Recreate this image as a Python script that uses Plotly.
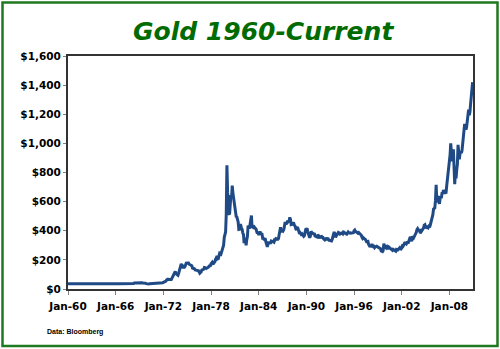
import plotly.graph_objects as go

# Monthly gold price (USD/oz), one list of 12 values per year, Jan..Dec
years = list(range(1960, 2011))
prices_by_year = {
    1960: [35.3, 35.2, 35.2, 35.2, 35.2, 35.2, 35.2, 35.3, 35.4, 36.5, 36.2, 35.6],
    1961: [35.5, 35.4, 35.4, 35.3, 35.3, 35.3, 35.2, 35.2, 35.2, 35.2, 35.2, 35.2],
    1962: [35.2, 35.2, 35.2, 35.2, 35.2, 35.2, 35.2, 35.2, 35.2, 35.2, 35.2, 35.2],
    1963: [35.2, 35.2, 35.2, 35.1, 35.1, 35.1, 35.1, 35.1, 35.1, 35.1, 35.1, 35.1],
    1964: [35.1, 35.1, 35.1, 35.1, 35.1, 35.1, 35.1, 35.1, 35.1, 35.1, 35.1, 35.2],
    1965: [35.2, 35.2, 35.2, 35.2, 35.2, 35.2, 35.2, 35.2, 35.2, 35.2, 35.2, 35.2],
    1966: [35.2, 35.2, 35.2, 35.2, 35.2, 35.2, 35.2, 35.2, 35.2, 35.2, 35.2, 35.2],
    1967: [35.2, 35.2, 35.2, 35.2, 35.2, 35.2, 35.2, 35.2, 35.2, 35.2, 35.4, 35.6],
    1968: [35.5, 35.6, 38.0, 37.8, 40.5, 41.2, 39.5, 39.3, 39.5, 39.6, 40.8, 41.9],
    1969: [42.5, 42.4, 43.3, 43.6, 43.5, 41.5, 42.0, 41.2, 40.6, 40.3, 36.9, 35.2],
    1970: [34.9, 35.0, 35.1, 35.6, 35.8, 35.4, 35.3, 35.4, 36.2, 37.5, 37.4, 37.4],
    1971: [37.9, 38.7, 38.9, 39.0, 40.5, 40.1, 41.0, 42.7, 42.0, 42.5, 42.9, 43.5],
    1972: [45.7, 48.3, 48.3, 49.0, 54.6, 62.1, 65.7, 67.0, 65.5, 64.9, 62.9, 63.9],
    1973: [65.1, 74.2, 84.4, 90.5, 102.0, 120.0, 120.0, 106.0, 103.0, 100.0, 94.8, 106.7],
    1974: [129.0, 150.0, 168.0, 172.0, 163.0, 154.0, 143.0, 154.0, 151.0, 158.0, 181.0, 183.0],
    1975: [176.0, 180.0, 178.0, 170.0, 167.0, 164.0, 166.0, 160.0, 144.0, 143.0, 142.0, 139.0],
    1976: [131.0, 131.0, 132.0, 128.0, 126.0, 126.0, 118.0, 109.0, 114.0, 117.0, 130.0, 134.0],
    1977: [132.0, 136.0, 148.0, 149.0, 146.0, 141.0, 144.0, 145.0, 149.0, 158.0, 162.0, 160.0],
    1978: [173.0, 178.0, 184.0, 175.0, 176.0, 183.0, 188.0, 206.0, 212.0, 227.0, 206.0, 208.0],
    1979: [227.0, 245.0, 242.0, 239.0, 257.0, 279.0, 295.0, 301.0, 355.0, 392.0, 392.0, 512.0],
    1980: [850.0, 665.0, 555.0, 517.0, 513.0, 600.0, 645.0, 627.0, 710.0, 662.0, 623.0, 595.0],
    1981: [557.0, 500.0, 498.0, 495.0, 480.0, 460.0, 409.0, 410.0, 443.0, 437.0, 413.0, 410.0],
    1982: [384.0, 374.0, 315.0, 350.0, 334.0, 300.0, 339.0, 364.0, 436.0, 422.0, 415.0, 444.0],
    1983: [481.0, 505.0, 419.0, 432.0, 438.0, 413.0, 422.0, 416.0, 412.0, 394.0, 381.0, 388.0],
    1984: [370.0, 386.0, 394.0, 381.0, 377.0, 377.0, 348.0, 348.0, 341.0, 340.0, 341.0, 320.0],
    1985: [303.0, 290.0, 304.0, 325.0, 316.0, 317.0, 317.0, 330.0, 324.0, 326.0, 325.0, 322.0],
    1986: [345.0, 339.0, 346.0, 340.0, 342.0, 342.0, 348.0, 376.0, 418.0, 423.0, 398.0, 391.0],
    1987: [408.0, 401.0, 408.0, 438.0, 460.0, 450.0, 450.0, 461.0, 460.0, 465.0, 467.0, 492.0],
    1988: [477.0, 442.0, 443.0, 452.0, 451.0, 451.0, 437.0, 431.0, 413.0, 406.0, 420.0, 419.0],
    1989: [404.0, 388.0, 390.0, 384.0, 371.0, 367.0, 375.0, 365.0, 362.0, 367.0, 392.0, 409.0],
    1990: [410.0, 417.0, 394.0, 375.0, 369.0, 352.0, 362.0, 395.0, 389.0, 381.0, 381.0, 378.0],
    1991: [384.0, 364.0, 363.0, 358.0, 357.0, 367.0, 368.0, 356.0, 349.0, 359.0, 360.0, 361.0],
    1992: [354.0, 354.0, 345.0, 338.0, 337.0, 341.0, 352.0, 343.0, 345.0, 344.0, 335.0, 334.0],
    1993: [329.0, 329.0, 330.0, 342.0, 367.0, 372.0, 392.0, 379.0, 355.0, 364.0, 373.0, 383.0],
    1994: [387.0, 382.0, 384.0, 377.0, 381.0, 385.0, 385.0, 380.0, 392.0, 390.0, 384.0, 379.0],
    1995: [379.0, 377.0, 382.0, 391.0, 385.0, 387.0, 386.0, 383.0, 383.0, 383.0, 386.0, 387.0],
    1996: [400.0, 405.0, 396.0, 393.0, 392.0, 385.0, 383.0, 387.0, 383.0, 381.0, 378.0, 369.0],
    1997: [355.0, 347.0, 352.0, 344.0, 344.0, 341.0, 324.0, 324.0, 323.0, 325.0, 306.0, 289.0],
    1998: [289.0, 297.0, 296.0, 308.0, 299.0, 292.0, 293.0, 284.0, 289.0, 296.0, 294.0, 291.0],
    1999: [287.0, 287.0, 286.0, 282.0, 277.0, 262.0, 256.0, 257.0, 265.0, 311.0, 293.0, 284.0],
    2000: [284.0, 300.0, 287.0, 280.0, 275.0, 286.0, 282.0, 275.0, 273.0, 270.0, 266.0, 272.0],
    2001: [266.0, 262.0, 263.0, 260.0, 272.0, 270.0, 268.0, 273.0, 283.0, 283.0, 276.0, 275.0],
    2002: [282.0, 296.0, 294.0, 302.0, 314.0, 321.0, 314.0, 310.0, 319.0, 317.0, 319.0, 333.0],
    2003: [357.0, 359.0, 340.0, 328.0, 355.0, 356.0, 351.0, 360.0, 379.0, 379.0, 389.0, 407.0],
    2004: [414.0, 405.0, 406.0, 404.0, 384.0, 392.0, 398.0, 401.0, 406.0, 420.0, 439.0, 442.0],
    2005: [424.0, 423.0, 434.0, 429.0, 422.0, 430.0, 424.0, 438.0, 456.0, 469.0, 476.0, 510.0],
    2006: [549.0, 555.0, 557.0, 610.0, 715.0, 596.0, 633.0, 632.0, 598.0, 585.0, 627.0, 629.0],
    2007: [631.0, 664.0, 654.0, 679.0, 667.0, 655.0, 665.0, 665.0, 712.0, 754.0, 806.0, 803.0],
    2008: [889.0, 922.0, 1000.0, 909.0, 888.0, 889.0, 960.0, 839.0, 720.0, 806.0, 760.0, 816.0],
    2009: [858.0, 990.0, 924.0, 890.0, 928.0, 946.0, 934.0, 949.0, 996.0, 1043.0, 1127.0, 1134.0],
    2010: [1118.0, 1095.0, 1113.0, 1148.0, 1205.0, 1232.0, 1193.0, 1215.0, 1271.0, 1343.0, 1385.0, 1420.0],
}

dates = []
prices = []
for y in years:
    for m, p in enumerate(prices_by_year[y], start=1):
        dates.append(f"{y}-{m:02d}-01")
        prices.append(p)

tick_years = [1960, 1966, 1972, 1978, 1984, 1990, 1996, 2002, 2008]
tick_vals = [f"{y}-01-01" for y in tick_years]
tick_text = [f"Jan-{y % 100:02d}" for y in tick_years]

y_ticks = [0, 200, 400, 600, 800, 1000, 1200, 1400, 1600]
y_tick_text = [f"${v:,}" for v in y_ticks]

title_text = "Gold 1960-Current"
source_text = "Data: Bloomberg"

fig = go.Figure()
fig.add_trace(go.Scatter(
    x=dates, y=prices, mode="lines",
    line=dict(color="#1f4a85", width=3),
    showlegend=False, hoverinfo="x+y",
))

L, R, T, B = 68, 27, 56, 60
W, H = 500, 349
pw, ph = W - L - R, H - T - B

def px_x(x):
    return (x - L) / pw

def px_y(y):
    return (H - B - y) / ph

tick_font = dict(family="DejaVu Sans", size=10.5, color="black", weight="bold")

fig.update_layout(
    width=W, height=H,
    margin=dict(l=L, r=R, t=T, b=B),
    paper_bgcolor="white", plot_bgcolor="white",
    font=dict(family="DejaVu Sans", size=10, color="black"),
    xaxis=dict(
        type="date",
        range=["1960-01-01", "2010-12-20"],
        tickvals=tick_vals, ticktext=tick_text,
        ticks="outside", ticklen=4, tickcolor="#808080", tickwidth=1,
        tickfont=tick_font, ticklabelstandoff=2,
        showgrid=False, zeroline=False,
        showline=True, linecolor="#333333", linewidth=2, mirror=True,
    ),
    yaxis=dict(
        range=[0, 1600],
        tickvals=y_ticks, ticktext=y_tick_text,
        ticks="outside", ticklen=3, tickcolor="#808080", tickwidth=1,
        tickfont=tick_font,
        showgrid=False, zeroline=False,
        showline=True, linecolor="#333333", linewidth=2, mirror=True,
    ),
    annotations=[
        dict(text=title_text, xref="paper", yref="paper",
             x=px_x(263.5), y=px_y(31), xanchor="center", yanchor="middle",
             showarrow=False,
             font=dict(family="DejaVu Sans", size=25, color="#006b00",
                       weight="bold", style="italic")),
        dict(text=source_text, xref="paper", yref="paper",
             x=px_x(45), y=px_y(332), xanchor="left", yanchor="middle",
             showarrow=False,
             font=dict(family="Liberation Sans", size=7, color="black", weight="bold")),
    ],
    shapes=[
        dict(type="rect", xref="paper", yref="paper",
             x0=px_x(2.5), x1=px_x(497.5), y0=px_y(346), y1=px_y(2.5),
             line=dict(color="#1f7a1f", width=2.5), fillcolor="rgba(0,0,0,0)",
             layer="below"),
    ],
)

fig.write_html("out.html")
